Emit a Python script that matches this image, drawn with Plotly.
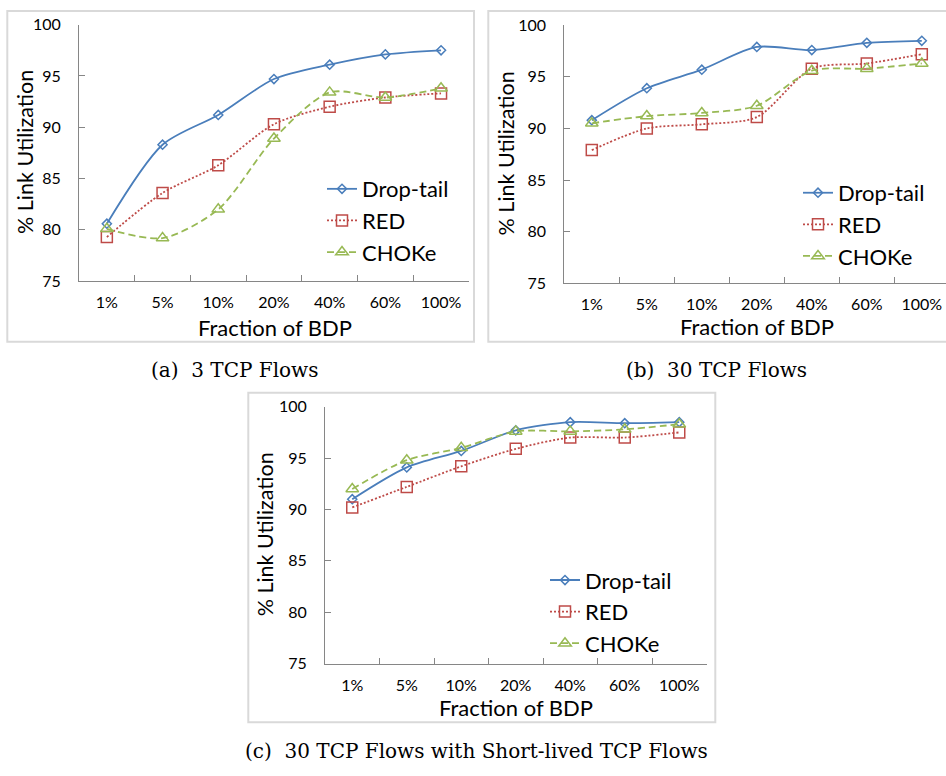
import plotly.graph_objects as go

W, H = 946, 776

# ---- data -------------------------------------------------------------
categories = ["1%", "5%", "10%", "20%", "40%", "60%", "100%"]

a_drop = [80.6, 88.3, 91.2, 94.7, 96.1, 97.1, 97.5]
a_red = [79.3, 83.6, 86.3, 90.3, 92.0, 92.9, 93.3]
a_choke = [80.1, 79.2, 82.0, 88.9, 93.4, 92.9, 93.8]

b_drop = [90.8, 93.9, 95.7, 97.9, 97.6, 98.3, 98.5]
b_red = [87.9, 90.0, 90.4, 91.1, 95.8, 96.3, 97.2]
b_choke = [90.5, 91.2, 91.5, 92.2, 95.6, 95.8, 96.3]

c_drop = [91.0, 94.1, 95.7, 97.7, 98.5, 98.4, 98.5]
c_red = [90.2, 92.2, 94.2, 95.9, 97.0, 97.0, 97.5]
c_choke = [92.0, 94.8, 96.0, 97.6, 97.6, 97.8, 98.3]

series_names = ["Drop-tail", "RED", "CHOKe"]
captions = ["(a)  3 TCP Flows", "(b)  30 TCP Flows",
            "(c)  30 TCP Flows with Short-lived TCP Flows"]

# ---- styling ----------------------------------------------------------
SANS = "Lato"
SERIF = "DejaVu Serif"
AXIS_GRAY = "#868686"
BORDER_GRAY = "#d9d9d9"

styles = [
    dict(color="#4A7EBB", dash="solid", symbol="diamond-open", size=7),
    dict(color="#BE4B48", dash="2px,2px", symbol="square-open", size=11),
    dict(color="#98B954", dash="7px,4px", symbol="triangle-up-open", size=11),
]


def px_x(x):
    return x / W


def px_y(y):
    return 1 - y / H


# panel geometry in pixels: plot-area left/right/top/bottom, category width
panels = [
    dict(l=79, r=469, t=15, b=278, cw=55.7),
    dict(l=564.3, r=946, t=15.7, b=280, cw=55.0),
    dict(l=325, r=706.7, t=406.7, b=670, cw=54.5),
]

data_sets = [
    (a_drop, a_red, a_choke),
    (b_drop, b_red, b_choke),
    (c_drop, c_red, c_choke),
]

fig = go.Figure()

for i, (panel, values) in enumerate(zip(panels, data_sets)):
    n = "" if i == 0 else str(i + 1)
    legend_name = "legend" + n
    for name, vals, st in zip(series_names, values, styles):
        fig.add_trace(go.Scatter(
            x=categories, y=vals, name=name,
            xaxis="x" + n, yaxis="y" + n, legend=legend_name,
            mode="lines+markers",
            line=dict(color=st["color"], dash=st["dash"], width=1.8,
                      shape="spline", smoothing=0.8),
            marker=dict(symbol=st["symbol"], size=st["size"],
                        color=st["color"], line=dict(width=1.5, color=st["color"])),
        ))

    x_end = -0.5 + (panel["r"] - panel["l"]) / panel["cw"]
    fig.update_layout(**{
        "xaxis" + n: dict(
            domain=[px_x(panel["l"]), px_x(panel["r"])],
            anchor="y" + n, type="category",
            categoryorder="array", categoryarray=categories,
            range=[-0.5, x_end],
            showline=True, linecolor=AXIS_GRAY, linewidth=1,
            ticks="inside", tickson="boundaries", ticklen=6,
            tickcolor=AXIS_GRAY, tickwidth=1,
            showgrid=False, zeroline=False,
            tickfont=dict(family=SANS, size=16, color="#000"),
            ticklabelstandoff=7,
        ),
        "yaxis" + n: dict(
            domain=[px_y(panel["b"]), px_y(panel["t"])],
            anchor="x" + n, range=[75, 100], dtick=5,
            showline=True, linecolor=AXIS_GRAY, linewidth=1,
            ticks="inside", ticklen=6, tickcolor=AXIS_GRAY, tickwidth=1,
            showgrid=False, zeroline=False,
            tickfont=dict(family=SANS, size=16, color="#000"),
            ticklabelstandoff=14,
        ),
    })

# legends, one per panel
legend_pos = [(322, 162), (798, 166), (545, 563)]
for i, (lx, ly) in enumerate(legend_pos):
    n = "" if i == 0 else str(i + 1)
    fig.update_layout(**{
        "legend" + n: dict(
            x=px_x(lx), y=px_y(ly), xanchor="left", yanchor="top",
            bgcolor="rgba(0,0,0,0)", borderwidth=0,
            font=dict(family=SANS, size=22, color="#000"),
            tracegroupgap=0, itemsizing="trace",
        )
    })

# axis titles
x_titles = [(274.5, 325), (757.4, 324), (515.8, 715)]
y_titles = [(25, 145.5), (506, 147), (265, 537.5)]
for (tx, ty) in x_titles:
    fig.add_annotation(text="Fraction of BDP", x=px_x(tx), y=px_y(ty),
                       xref="paper", yref="paper", showarrow=False,
                       xanchor="center", yanchor="middle",
                       font=dict(family=SANS, size=22, color="#000"))
for (tx, ty) in y_titles:
    fig.add_annotation(text="% Link Utilization", x=px_x(tx), y=px_y(ty),
                       xref="paper", yref="paper", showarrow=False,
                       textangle=-90, xanchor="center", yanchor="middle",
                       font=dict(family=SANS, size=21.5, color="#000"))

# captions under each chart
cap_pos = [(234, 369), (716, 369), (476, 760)]
for text, (cx, cy) in zip(captions, cap_pos):
    fig.add_annotation(text=text, x=px_x(cx), y=px_y(cy),
                       xref="paper", yref="paper", showarrow=False,
                       xanchor="center", yanchor="middle",
                       font=dict(family=SERIF, size=20, color="#000"))

# chart-area frames
frames = [(7.3, 1, 474, 340), (488.3, 1, 950, 340), (248.3, 392.3, 715.3, 730)]
for (x0, y0, x1, y1) in frames:
    fig.add_shape(type="rect", xref="paper", yref="paper",
                  x0=px_x(x0), x1=px_x(x1), y0=px_y(y1), y1=px_y(y0),
                  line=dict(color=BORDER_GRAY, width=2), layer="below")

fig.update_layout(
    width=W, height=H,
    margin=dict(l=0, r=0, t=0, b=0),
    paper_bgcolor="white", plot_bgcolor="white",
    showlegend=True,
)

fig.write_html("out.html")
